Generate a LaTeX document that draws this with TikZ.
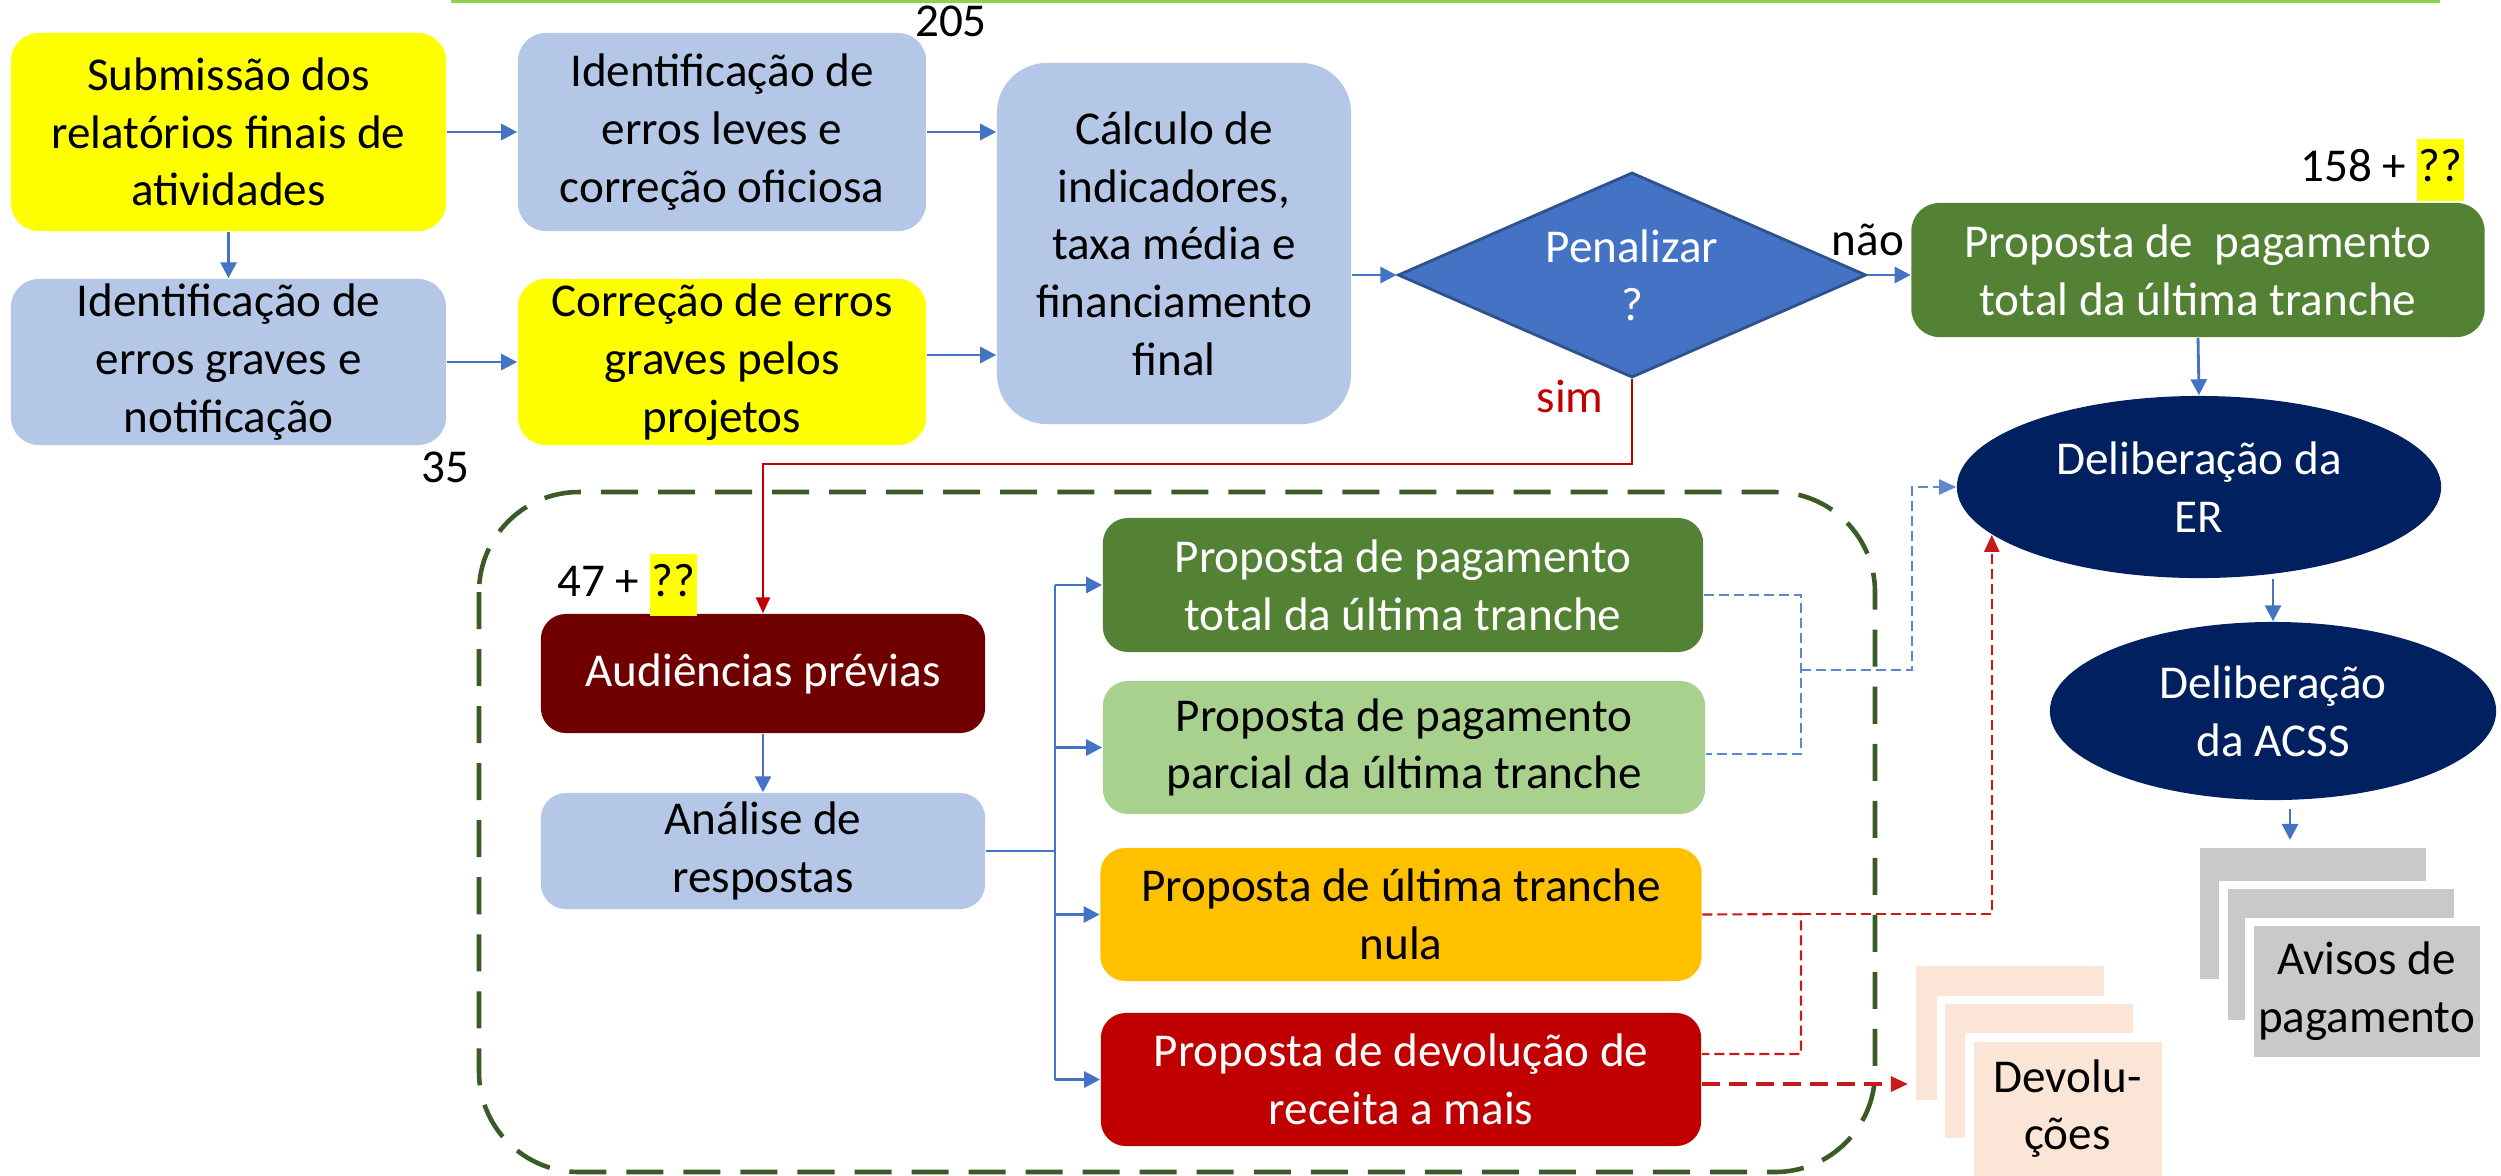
\documentclass[tikz,border=0pt]{standalone}
\usepackage{fontspec}
\setmainfont{Carlito}
\usetikzlibrary{shapes.geometric,arrows.meta}

\definecolor{amarelo}{HTML}{FFFF00}
\definecolor{cinzaazul}{HTML}{B4C7E7}
\definecolor{azul}{HTML}{4472C4}
\definecolor{azulesc}{HTML}{2F528F}
\definecolor{verde}{HTML}{548235}
\definecolor{verdecl}{HTML}{A9D18E}
\definecolor{laranja}{HTML}{FFC000}
\definecolor{vermelho}{HTML}{C00000}
\definecolor{bordo}{HTML}{700000}
\definecolor{marinho}{HTML}{002060}
\definecolor{cinza}{HTML}{C9C9C9}
\definecolor{pessego}{HTML}{FBE5D6}
\definecolor{verdeesc}{HTML}{3A5A26}
\definecolor{verdelima}{HTML}{92D050}

\newcommand{\realce}[1]{{\setlength{\fboxsep}{0.5pt}\colorbox{amarelo}{\strut #1}}}

\tikzset{
  texto/.style={font=\fontsize{13.4}{16.4}\selectfont, align=center, inner sep=0pt},
  caixa/.style={texto, rectangle, rounded corners=0.28cm},
  elipse/.style={texto, ellipse, fill=marinho, text=white},
  folha/.style={rectangle, draw=white, line width=2.3pt, inner sep=0pt},
  seta/.style={azul, line width=0.8pt, -{Triangle[length=0.16cm,width=0.16cm]}},
  liga/.style={azul, line width=0.7pt},
  tracoazul/.style={azul!85!white, line width=0.6pt, dash pattern=on 0.1cm off 0.05cm},
  tracoverm/.style={vermelho!90!white, line width=0.6pt, dash pattern=on 0.1cm off 0.05cm},
  pontaverm/.style={-{Triangle[length=0.17cm,width=0.15cm]}}
}

\begin{document}
\begin{tikzpicture}[x=0.01cm, y=-0.01cm]
  \useasboundingbox (0,0) rectangle (2501,1175);

  % linha no topo
  \draw[verdelima, line width=1pt] (451,1.5) -- (2440,1.5);

  % caixa tracejada
  \draw[verdeesc, line width=1.3pt, dash pattern=on 0.37cm off 0.2cm, rounded corners=1cm]
    (479,492) rectangle (1875,1172);

  % primeira fase
  \node[caixa, fill=amarelo, minimum width=4.35cm, minimum height=1.98cm] (sub) at (228.5,132)
    {Submissão dos\\relatórios finais de\\atividades};
  \node[caixa, fill=cinzaazul, minimum width=4.08cm, minimum height=1.98cm] (leves) at (722,132)
    {Identificação de\\erros leves e\\correção oficiosa};
  \node[caixa, fill=cinzaazul, minimum width=4.35cm, minimum height=1.66cm] (graves) at (228.5,362)
    {Identificação de\\erros graves e\\notificação};
  \node[caixa, fill=amarelo, minimum width=4.08cm, minimum height=1.66cm] (corr) at (722,362)
    {Correção de erros\\graves pelos\\projetos};
  \node[caixa, fill=cinzaazul, rounded corners=0.5cm, minimum width=3.54cm, minimum height=3.61cm] (calc) at (1174,243.5)
    {Cálculo de\\indicadores,\\taxa média e\\financiamento\\final};
  \node[texto, diamond, aspect=2.28, fill=azul, draw=azulesc, line width=0.8pt, text=white,
    minimum width=4.68cm, minimum height=2.05cm] (pen) at (1632,275) {Penalizar\\?};
  \node[caixa, fill=verde, text=white, minimum width=5.73cm, minimum height=1.34cm] (totalA) at (2198,270)
    {Proposta de\ \ pagamento\\total da última tranche};
  \node[elipse, minimum width=4.84cm, minimum height=1.82cm] (er) at (2199,487) {Deliberação da\\ER};
  \node[elipse, minimum width=4.46cm, minimum height=1.78cm] (acss) at (2273,711) {Deliberação\\da ACSS};

  % audiencias
  \node[caixa, fill=bordo, text=white, rounded corners=0.25cm, minimum width=4.44cm, minimum height=1.19cm] (aud) at (763,673.5)
    {Audiências prévias};
  \node[caixa, fill=cinzaazul, rounded corners=0.25cm, minimum width=4.44cm, minimum height=1.16cm] (anal) at (763,851)
    {Análise de\\respostas};
  \node[caixa, fill=verde, text=white, rounded corners=0.25cm, minimum width=6cm, minimum height=1.34cm] (p1) at (1403,585)
    {Proposta de pagamento\\total da última tranche};
  \node[caixa, fill=verdecl, rounded corners=0.25cm, minimum width=6.02cm, minimum height=1.33cm] (p2) at (1404,747.5)
    {Proposta de pagamento\\parcial da última tranche};
  \node[caixa, fill=laranja, rounded corners=0.25cm, minimum width=6.01cm, minimum height=1.33cm] (p3) at (1401,914.5)
    {Proposta de última tranche\\nula};
  \node[caixa, fill=vermelho, text=white, rounded corners=0.25cm, minimum width=6cm, minimum height=1.33cm] (p4) at (1401,1079.5)
    {Proposta de devolução de\\receita a mais};

  % pilhas de documentos
  \node[folha, fill=pessego, minimum width=1.96cm, minimum height=1.42cm] (dev1) at (2010,1033) {};
  \node[folha, fill=pessego, minimum width=1.96cm, minimum height=1.42cm] (dev2) at (2039,1071) {};
  \node[folha, fill=pessego, minimum width=1.96cm, minimum height=1.42cm, texto] (dev3) at (2067.5,1108.5) {Devolu-\\ções};
  \node[folha, fill=cinza, minimum width=2.34cm, minimum height=1.39cm] (av1) at (2313,913.5) {};
  \node[folha, fill=cinza, minimum width=2.34cm, minimum height=1.39cm] (av2) at (2340.5,954.5) {};
  \node[folha, fill=cinza, minimum width=2.34cm, minimum height=1.39cm, texto] (av3) at (2366.5,991.5) {Avisos de\\pagamento};

  % numeros
  \node[texto] (n205) at (951,21) {205};
  \node[texto] (n35) at (445,467) {35};
  \node[texto] (n158) at (2382,170) {158 + \realce{??}};
  \node[texto] (n47) at (627,585) {47 + \realce{??}};
  \node[texto] (nao) at (1868,240) {não};
  \node[texto, text=vermelho] (sim) at (1570,396) {sim};

  % setas
  \draw[seta] (sub) -- (leves);
  \draw[seta] (leves.east) -- (leves.east -| calc.west);
  \draw[seta] (sub) -- (graves);
  \draw[seta] (graves) -- (corr);
  \draw[seta] ([yshift=0.07cm]corr.east) -- ([yshift=0.07cm]corr.east -| calc.west);
  \draw[seta] (calc.east |- pen.west) -- (pen.west);
  \draw[seta] (pen.east) -- (pen.east -| totalA.west);
  \draw[seta] (totalA.south) -- (er.north);
  \draw[seta] (acss.north |- er.south) -- (acss.north);
  \draw[seta] ([xshift=0.17cm,yshift=-0.08cm]acss.south) -- ([xshift=0.17cm]acss.south |- av1.north);
  \coordinate (dobra) at (1632,464);
  \draw[vermelho, line width=0.7pt, -{Triangle[length=0.16cm,width=0.14cm]}] (pen.south) -- (dobra) -| (aud.north);
  \draw[seta] (aud) -- (anal);

  % ramificacao
  \coordinate (garfo) at (1055,851);
  \draw[liga] (anal.east) -- (garfo);
  \draw[liga] (garfo |- p1) -- (garfo |- p4);
  \foreach \p in {p1,p2,p3,p4}
    \draw[seta] (garfo |- \p) -- (\p.west);

  % ligacoes tracejadas
  \coordinate (jazul) at (1801,670);
  \coordinate (cazul) at (1912,670);
  \draw[tracoazul] ([yshift=-0.1cm]p1.east) -| (jazul) |- ([yshift=-0.065cm]p2.east);
  \draw[tracoazul, pontaverm] (jazul) -- (cazul) |- (er.west);
  \coordinate (jverm) at (1801,914);
  \draw[tracoverm] (p3.east) -- (jverm) |- ([yshift=0.255cm]p4.east);
  \draw[tracoverm, pontaverm] (jverm) -| (er.193);
  \draw[vermelho!90!white, line width=0.9pt, dash pattern=on 0.18cm off 0.09cm, pontaverm]
    ([yshift=-0.045cm]p4.east) -- ([yshift=-0.045cm]p4.east -| dev1.west);
\end{tikzpicture}
\end{document}
